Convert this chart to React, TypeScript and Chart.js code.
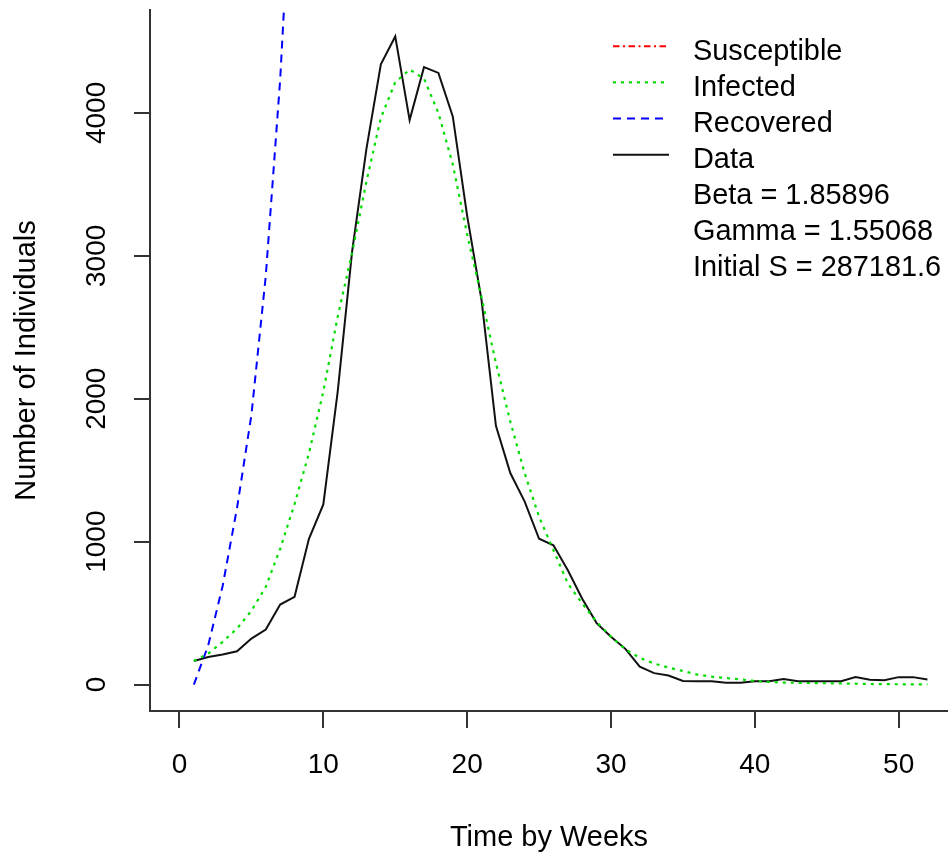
import React, { useEffect, useRef } from 'react';
import { Chart, registerables } from 'chart.js';

Chart.register(...registerables);

const FONT = "'Liberation Sans', Arial, Helvetica, sans-serif";

const weeks = [
  1, 2, 3, 4, 5, 6, 7, 8, 9, 10, 11, 12, 13, 14, 15, 16, 17, 18, 19, 20, 21, 22, 23, 24, 25, 26,
  27, 28, 29, 30, 31, 32, 33, 34, 35, 36, 37, 38, 39, 40, 41, 42, 43, 44, 45, 46, 47, 48, 49, 50, 51, 52,
];

const susceptible = [
  287182, 286855, 286358, 285720, 284945, 283803, 282164, 279984, 277329, 273997, 269872, 265127, 259526,
  253282, 246732, 240044, 233457, 227297, 221757, 217096, 212981, 209648, 206857, 204619, 202873, 201457,
  200410, 199560, 198908, 198413, 198050, 197770, 197550, 197368, 197227, 197122, 197036, 196967, 196914,
  196875, 196844, 196818, 196795, 196779, 196766, 196756, 196750, 196746, 196743, 196741, 196740, 196739,
];

const infected = [
  165, 217, 299, 392, 516, 684, 950, 1263, 1618, 2050, 2575, 3020, 3521, 3965, 4215, 4303, 4240, 4000,
  3640, 3150, 2710, 2249, 1840, 1478, 1174, 940, 707, 567, 439, 334, 247, 187, 147, 119, 95, 70, 56, 45,
  36, 25, 18, 14, 12, 10, 9, 8, 6, 4, 3, 2, 1, 1,
];

const recovered = [
  0, 275, 690, 1235, 1886, 2860, 4233, 6100, 8400, 11300, 14900, 19200, 24300, 30100, 36400, 43000, 49650,
  56050, 61950, 67150, 71650, 75450, 78650, 81250, 83300, 84950, 86230, 87220, 88000, 88600, 89050, 89390,
  89650, 89860, 90025, 90155, 90255, 90335, 90397, 90447, 90485, 90515, 90540, 90558, 90572, 90583, 90591,
  90597, 90601, 90604, 90606, 90607,
];

const observed = [
  165, 193, 210, 233, 322, 385, 560, 614, 1020, 1260, 2050, 3030, 3750, 4340, 4535, 3950, 4320, 4280, 3975,
  3280, 2690, 1810, 1480, 1280, 1020, 975, 800, 600, 430, 335, 250, 125, 80, 63, 25, 23, 23, 12, 12, 23, 23,
  38, 23, 23, 23, 23, 52, 33, 30, 52, 52, 35,
];

const xTicks = [0, 10, 20, 30, 40, 50];
const yTicks = [0, 1000, 2000, 3000, 4000];

const seriesLabels = ['Susceptible', 'Infected', 'Recovered', 'Data'];
const paramLabels = ['Beta = 1.85896', 'Gamma = 1.55068', 'Initial S = 287181.6'];

const toPoints = (vals: number[]) => weeks.map((w, i) => ({ x: w, y: vals[i] }));

const legendPlugin = {
  id: 'rLegend',
  afterDraw(chart: any) {
    const ctx = chart.ctx as CanvasRenderingContext2D;
    ctx.save();
    const x0 = 613;
    const x1 = 669;
    const tx = 693;
    const y0 = 46.3;
    const step = 36.15;
    chart.data.datasets.forEach((ds: any, i: number) => {
      const y = y0 + i * step;
      ctx.beginPath();
      ctx.setLineDash(ds.borderDash || []);
      ctx.strokeStyle = ds.borderColor;
      ctx.lineWidth = ds.borderWidth;
      ctx.moveTo(x0, y);
      ctx.lineTo(x1, y);
      ctx.stroke();
    });
    ctx.setLineDash([]);
    ctx.fillStyle = '#000';
    ctx.font = `28.9px ${FONT}`;
    ctx.textBaseline = 'alphabetic';
    ctx.textAlign = 'left';
    const labels = [...seriesLabels, ...paramLabels];
    labels.forEach((t, i) => ctx.fillText(t, tx, y0 + i * step + 13.2));
    ctx.restore();
  },
};

export default function App() {
  const ref = useRef<HTMLCanvasElement | null>(null);

  useEffect(() => {
    if (!ref.current) return;
    const chart = new Chart(ref.current, {
      type: 'line',
      data: {
        datasets: [
          {
            label: seriesLabels[0],
            data: toPoints(susceptible),
            borderColor: '#FF0000',
            borderWidth: 2,
            borderDash: [6.5, 3.5, 2, 3.5],
            pointRadius: 0,
            fill: false,
          },
          {
            label: seriesLabels[1],
            data: toPoints(infected),
            borderColor: '#00DD00',
            borderWidth: 2.2,
            borderDash: [3, 5],
            pointRadius: 0,
            fill: false,
          },
          {
            label: seriesLabels[2],
            data: toPoints(recovered),
            borderColor: '#0000FF',
            borderWidth: 2,
            borderDash: [8, 6],
            pointRadius: 0,
            fill: false,
          },
          {
            label: seriesLabels[3],
            data: toPoints(observed),
            borderColor: '#111111',
            borderWidth: 2,
            pointRadius: 0,
            fill: false,
          },
        ],
      },
      options: {
        responsive: false,
        animation: false,
        devicePixelRatio: 1,
        layout: { padding: { top: 10, right: 0, left: 0, bottom: 0 } },
        plugins: {
          legend: { display: false },
          tooltip: { enabled: false },
        },
        scales: {
          x: {
            type: 'linear',
            min: -2.05,
            max: 53.43,
            afterBuildTicks: (s: any) => {
              s.ticks = xTicks.map((v) => ({ value: v }));
            },
            afterFit: (s: any) => {
              s.height = 144;
              s.paddingLeft = 0;
              s.paddingRight = 0;
            },
            grid: { drawOnChartArea: false, drawTicks: true, tickLength: 17, color: '#333', lineWidth: 2 },
            border: { display: true, color: '#333', width: 2 },
            ticks: {
              autoSkip: false,
              maxRotation: 0,
              minRotation: 0,
              padding: 20,
              color: '#000',
              font: { family: FONT, size: 28 },
              callback: (v: any) => String(v),
            },
            title: {
              display: true,
              text: 'Time by Weeks',
              color: '#000',
              font: { family: FONT, size: 29 },
              padding: { top: 0, bottom: 0 },
            },
          },
          y: {
            type: 'linear',
            min: -185,
            max: 4720,
            afterBuildTicks: (s: any) => {
              s.ticks = yTicks.map((v) => ({ value: v }));
            },
            afterFit: (s: any) => {
              s.width = 150;
              s.paddingTop = 0;
              s.paddingBottom = 0;
            },
            grid: { drawOnChartArea: false, drawTicks: true, tickLength: 16, color: '#333', lineWidth: 2 },
            border: { display: true, color: '#333', width: 2 },
            ticks: {
              autoSkip: false,
              minRotation: 90,
              maxRotation: 90,
              crossAlign: 'center',
              padding: 6,
              color: '#000',
              font: { family: FONT, size: 28 },
              callback: (v: any) => String(v),
            },
            title: {
              display: true,
              text: 'Number of Individuals',
              color: '#000',
              font: { family: FONT, size: 29 },
              padding: { top: 10, bottom: 0 },
            },
          },
        },
      },
      plugins: [legendPlugin],
    } as any);
    return () => chart.destroy();
  }, []);

  return (
    <div style={{ position: 'absolute', top: 0, left: 0, width: 948, height: 855, background: '#fff' }}>
      <canvas ref={ref} width={948} height={855} style={{ display: 'block' }} />
    </div>
  );
}
